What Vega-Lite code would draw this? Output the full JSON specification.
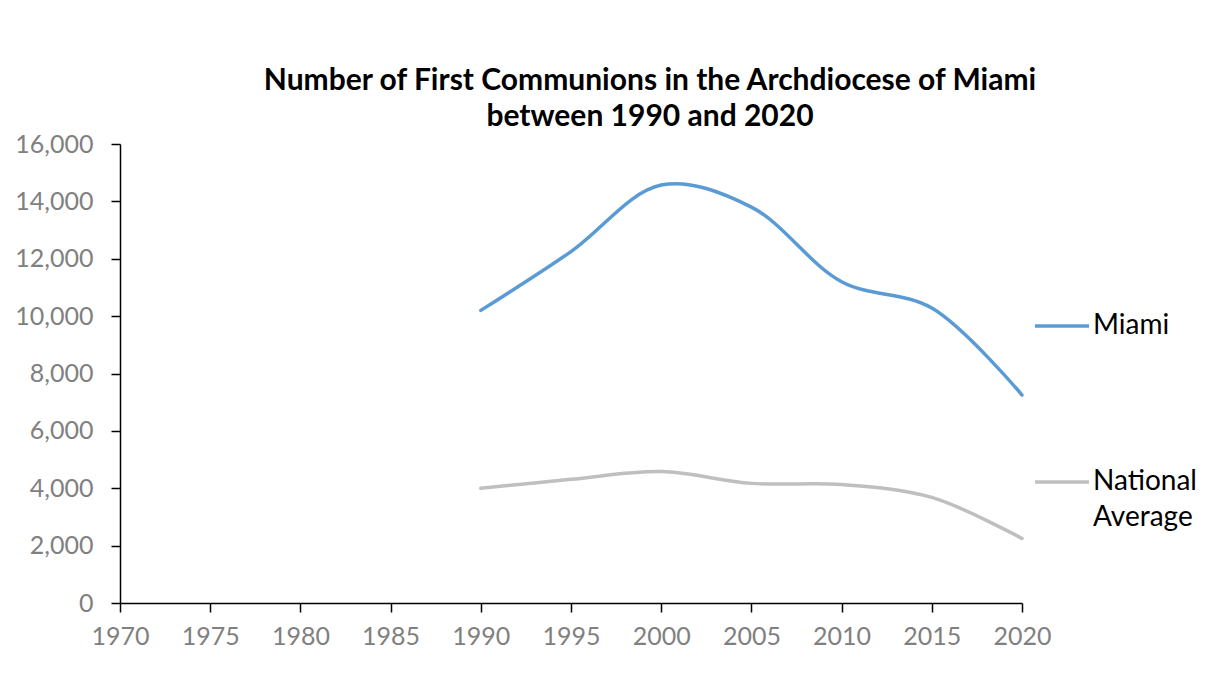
{
  "$schema": "https://vega.github.io/schema/vega-lite/v6.json",
  "autosize": {"type": "none"},
  "width": 902,
  "height": 459,
  "padding": {"left": 120, "top": 144, "right": 198, "bottom": 95},
  "background": "white",
  "title": {
    "text": ["Number of First Communions in the Archdiocese of Miami", "between 1990 and 2020"],
    "font": "Lato",
    "fontSize": 30,
    "fontWeight": "bold",
    "color": "#000000",
    "anchor": "middle",
    "frame": "group",
    "dx": 79,
    "offset": 0,
    "lineHeight": 36
  },
  "data": {
    "values": [
      {"year": 1990, "series": "Miami", "value": 10200},
      {"year": 1995, "series": "Miami", "value": 12250},
      {"year": 2000, "series": "Miami", "value": 14570},
      {"year": 2005, "series": "Miami", "value": 13800},
      {"year": 2010, "series": "Miami", "value": 11200},
      {"year": 2015, "series": "Miami", "value": 10280},
      {"year": 2020, "series": "Miami", "value": 7250},
      {"year": 1990, "series": "National Average", "value": 4000},
      {"year": 1995, "series": "National Average", "value": 4310},
      {"year": 2000, "series": "National Average", "value": 4580},
      {"year": 2005, "series": "National Average", "value": 4170},
      {"year": 2010, "series": "National Average", "value": 4130},
      {"year": 2015, "series": "National Average", "value": 3680},
      {"year": 2020, "series": "National Average", "value": 2250}
    ]
  },
  "mark": {"type": "line", "interpolate": "catmull-rom", "strokeWidth": 3.5, "strokeCap": "round"},
  "encoding": {
    "x": {
      "field": "year",
      "type": "quantitative",
      "scale": {"domain": [1970, 2020], "nice": false, "zero": false},
      "axis": {
        "title": null,
        "values": [1970, 1975, 1980, 1985, 1990, 1995, 2000, 2005, 2010, 2015, 2020],
        "format": "d",
        "grid": false,
        "domainColor": "#000000",
        "domainWidth": 1.5,
        "tickColor": "#000000",
        "tickWidth": 1.5,
        "tickSize": 9,
        "labelFont": "Lato",
        "labelFontSize": 25,
        "labelColor": "#808080",
        "labelPadding": 12,
        "labelFlush": false,
        "labelOverlap": false
      }
    },
    "y": {
      "field": "value",
      "type": "quantitative",
      "scale": {"domain": [0, 16000], "nice": false},
      "axis": {
        "title": null,
        "values": [0, 2000, 4000, 6000, 8000, 10000, 12000, 14000, 16000],
        "format": ",d",
        "grid": false,
        "domainColor": "#000000",
        "domainWidth": 1.5,
        "tickColor": "#000000",
        "tickWidth": 1.5,
        "tickSize": 9,
        "labelFont": "Lato",
        "labelFontSize": 25,
        "labelColor": "#808080",
        "labelPadding": 18,
        "labelOverlap": false
      }
    },
    "color": {
      "field": "series",
      "type": "nominal",
      "scale": {"domain": ["Miami", "National Average"], "range": ["#5B9BD5", "#BFBFBF"]},
      "legend": {
        "title": null,
        "orient": "none",
        "legendX": 913,
        "legendY": 153,
        "symbolType": "stroke",
        "symbolSize": 2916,
        "symbolStrokeWidth": 3.5,
        "labelFont": "Lato",
        "labelFontSize": 28,
        "labelColor": "#000000",
        "labelOffset": 2,
        "labelLimit": 300,
        "rowPadding": 113,
        "labelExpr": "datum.label == 'National Average' ? ['National', 'Average'] : datum.label"
      }
    }
  },
  "config": {
    "view": {"stroke": null},
    "style": {"guide-label": {"lineHeight": 36}}
  }
}
